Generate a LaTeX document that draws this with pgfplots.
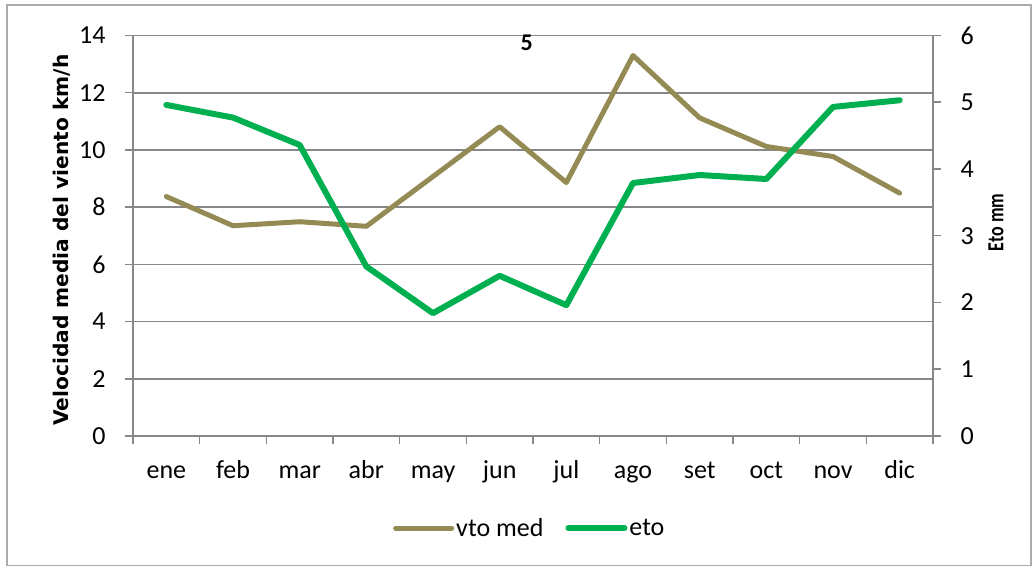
\documentclass[border=0pt]{standalone}
\usepackage{graphicx}
\usepackage{pgfplots}
\pgfplotsset{compat=1.18}
\usepackage{pgfplotstable}
\usepackage{fontspec}
\setmainfont{Carlito}
\newfontfamily\dejavu{DejaVu Sans}
\definecolor{vto}{HTML}{948A54}
\definecolor{eto}{HTML}{00B050}
\definecolor{gridgray}{HTML}{878787}

\pgfplotstableread{
m vto eto
0 8.37 4.96
1 7.35 4.77
2 7.49 4.36
3 7.33 2.54
4 9.07 1.84
5 10.81 2.40
6 8.86 1.96
7 13.30 3.79
8 11.12 3.91
9 10.12 3.85
10 9.77 4.93
11 8.49 5.03
}\data

\begin{document}
\begin{tikzpicture}[x=1pt,y=1pt]
\path (0,0) rectangle (1032,567);
\draw[gridgray!70, line width=1.5pt] (7,1.5) rectangle (1031,562);
\begin{axis}[
  at={(133pt,131pt)}, anchor=south west, scale only axis,
  width=800pt, height=400.5pt,
  xmin=-0.5, xmax=11.5, ymin=0, ymax=14,
  axis lines*=left,
  axis line style={draw=gridgray, line width=1.5pt, -},
  xtick={0,...,11},
  xticklabels={ene,feb,mar,abr,may,jun,jul,ago,set,oct,nov,dic},
  minor xtick={-0.5,0.5,...,11.5},
  ytick={0,2,...,14},
  tick align=outside,
  major tick length=8pt, minor tick length=8pt,
  tick style={draw=gridgray, line width=1.5pt},
  major x tick style={draw=none},
  ymajorgrids, grid style={draw=gridgray, line width=1.6pt},
  /pgf/number format/assume math mode=true,
  yticklabel style={font=\fontsize{26}{26}\selectfont, anchor=east, xshift=-16pt},
  xticklabel style={font=\fontsize{26}{26}\selectfont, anchor=base, yshift=-35pt},
  clip=false,
]
\addplot[vto, line width=5pt, line join=round, line cap=round] table[x=m,y=vto]{\data};
\node[font=\dejavu\bfseries\fontsize{20.2}{20.2}\selectfont, rotate=90] at (rel axis cs:-0.089,0.489) {Velocidad media del viento km/h};
\node[font=\bfseries\fontsize{24}{24}\selectfont] at (rel axis cs:0.492,0.981) {5};
\end{axis}
\begin{axis}[
  at={(133pt,131pt)}, anchor=south west, scale only axis,
  width=800pt, height=400.5pt,
  xmin=-0.5, xmax=11.5, ymin=0, ymax=6,
  axis x line=none,
  axis y line*=right,
  axis line style={draw=gridgray, line width=1.5pt, -},
  ytick={0,1,...,6},
  tick align=outside,
  major tick length=8pt,
  tick style={draw=gridgray, line width=1.5pt},
  /pgf/number format/assume math mode=true,
  every y tick label/.append style={font=\fontsize{26}{26}\selectfont, anchor=west, xshift=16pt},
  legend columns=2,
  legend style={draw=none, fill=none, at={(0.496,-0.23)}, anchor=center,
    font=\fontsize{26}{26}\selectfont,
    /tikz/every even column/.append style={column sep=20pt}},
  legend image code/.code={\draw[#1, line cap=round] (0pt,0pt) -- (56pt,0pt);},
  clip=false,
]
\addlegendimage{vto, line width=5pt}
\addlegendentry{vto med}
\addplot[eto, line width=6pt, line join=round, line cap=round] table[x=m,y=eto]{\data};
\addlegendentry{eto}
\end{axis}
\node[font=\bfseries\fontsize{23}{23}\selectfont, rotate=90, inner sep=0pt] at (996,344.5) {\scalebox{0.78}[1]{Eto mm}};
\end{tikzpicture}
\end{document}
